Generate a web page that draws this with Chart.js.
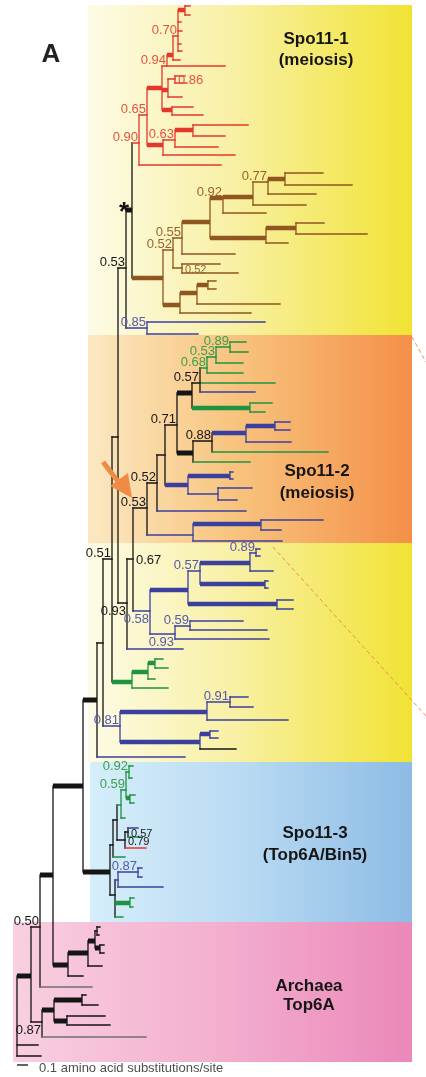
<!DOCTYPE html>
<html><head><meta charset="utf-8">
<script src="https://cdn.jsdelivr.net/npm/chart.js@4.4.1/dist/chart.umd.min.js"></script>
<style>html,body{margin:0;padding:0;background:#fff}#wrap{width:426px;height:1077px;position:relative}</style>
</head><body><div id="wrap"><canvas id="c"></canvas></div>
<script>
// ---------- DATA ----------
// Tree nodes: [id, parentId, depth (distance units, 11 units = 0.1 subst/site), row (vertical order units), clade, highSupport(1=thick)]
const backboneNodes = [
  ['root',null,17,1016,'bb',0],
  ['nAE','root',31,976,'bb',1],
  ['rt1','root',38,1045,'bb',0],
  ['rt2','root',41,1056,'bb',0],
  ['n50','nAE',40,927,'bb',0],
  ['gA','n50',92,987,'gy',0],
  ['n53','n50',53,875,'bb',1],
  ['nEuk','n53',83,786,'bb',1],
  ['nArA','n53',68,965,'bb',1],
  ['n87','nAE',42,1022,'bb',0]
];
const archaeaNodes = [
  ['a1','nArA',88,953,'bb',1],
  ['a1L','nArA',83,976,'bb',0],
  ['a2','a1',95,941,'bb',1],
  ['a1L2','a1',102,966,'bb',0],
  ['a3','a2',97,931,'bb',0],
  ['a3a','a3',100,927,'bb',0],
  ['a3b','a3',99,935,'bb',0],
  ['a4','a2',100,948,'bb',1],
  ['a4a','a4',104,945,'bb',0],
  ['a4b','a4',104,953,'bb',0],
  ['aL','n87',146,1037,'gy',0],
  ['ab1','n87',54,1010,'bb',1],
  ['ab2','ab1',82,1000,'bb',1],
  ['ab2a','ab2',86,995,'bb',0],
  ['ab2b','ab2',98,1005,'bb',0],
  ['ab3','ab1',67,1021,'bb',1],
  ['ab3a','ab3',105,1016,'bb',0],
  ['ab3b','ab3',110,1025,'bb',0]
];
const spo113Nodes = [
  ['s3','nEuk',110,872,'bb',1],
  ['s3a','s3',113,845,'bb',0],
  ['s3gL','s3a',125,857,'gr',0],
  ['s3c','s3a',117,820,'bb',0],
  ['g3','s3c',121,805,'gr',0],
  ['g3L','g3',125,818,'gr',0],
  ['g3a','g3',126,790,'gr',0],
  ['g3c','g3a',129,772,'gr',0],
  ['g3c1','g3c',133,766,'gr',0],
  ['g3c2','g3c',132,778,'gr',0],
  ['g3d','g3a',130,798,'gr',1],
  ['g3d1','g3d',135,795,'gr',0],
  ['g3d2','g3d',134,803,'gr',0],
  ['k3','s3c',125,840,'bb',0],
  ['k3a','k3',128,832,'bb',0],
  ['k3a1','k3a',138,828,'bl',0],
  ['k3a2','k3a',140,837,'gr',0],
  ['k3r','k3',146,848,'rd',0],
  ['s3b','s3',115,895,'bb',0],
  ['b3n','s3b',118,880,'bl',0],
  ['b3m','b3n',138,872,'bl',0],
  ['b3m1','b3m',142,868,'bl',0],
  ['b3m2','b3m',142,877,'bl',0],
  ['b3L','b3n',163,887,'bl',0],
  ['g4','s3b',130,903,'gr',1],
  ['g4a','g4',134,898,'gr',0],
  ['g4b','g4',133,907,'gr',0],
  ['g4L','s3b',123,917,'gr',0]
];
const lowerEukNodes = [
  ['nA0','nEuk',97,700,'bb',1],
  ['nA0L','nA0',185,757,'bl',0],
  ['nA1','nA0',103,643,'bb',0],
  ['c81','nA1',120,726,'bl',0],
  ['c81a','c81',207,712,'bl',1],
  ['c91','c81a',230,702,'bl',0],
  ['c91a','c91',248,697,'bl',0],
  ['c91b','c91',253,707,'bl',0],
  ['c81aL','c81a',288,720,'bl',0],
  ['c81b','c81',200,742,'bl',1],
  ['c81c','c81b',210,734,'bl',1],
  ['c81c1','c81c',218,731,'bl',0],
  ['c81c2','c81c',218,738,'bl',0],
  ['c81bL','c81b',236,749,'bb',0],
  ['nB','nA1',112,559,'bb',0],
  ['g5','nB',132,682,'gr',1],
  ['g5a','g5',148,672,'gr',1],
  ['g5b','g5a',155,663,'gr',1],
  ['g5b1','g5b',163,659,'gr',0],
  ['g5b2','g5b',168,668,'gr',0],
  ['g5aL','g5a',155,679,'gr',0],
  ['g5L','g5',168,688,'gr',0],
  ['nC','nB',118,437,'bb',0],
  ['nF','nC',127,603,'bb',0],
  ['nFL','nF',183,649,'bl',0],
  ['nG','nF',133,559,'bb',0],
  ['c58','nG',150,611,'bl',0],
  ['c57','c58',188,590,'bl',1],
  ['c57a','c57',200,571,'bl',0],
  ['c89','c57a',250,563,'bl',1],
  ['c89a','c89',256,553,'bl',0],
  ['c89a1','c89a',260,549,'bl',0],
  ['c89a2','c89a',260,556,'bl',0],
  ['c89L','c89',273,571,'bl',0],
  ['c57c','c57a',265,584,'bl',1],
  ['c57c1','c57c',268,581,'bl',0],
  ['c57c2','c57c',268,588,'bl',0],
  ['c57b','c57',277,604,'bl',1],
  ['c57b1','c57b',293,600,'bl',0],
  ['c57b2','c57b',293,609,'bl',0],
  ['c93','c58',175,634,'bl',0],
  ['c59','c93',190,626,'bl',0],
  ['c59a','c59',243,621,'bl',0],
  ['c59b','c59',267,630,'bl',0],
  ['c93L','c93',269,639,'bl',0]
];
const spo112Nodes = [
  ['nH','nG',147,508,'bb',0],
  ['nI','nH',157,483,'bb',0],
  ['nIL','nI',246,511,'bl',0],
  ['nJ','nI',165,455,'bb',0],
  ['nK','nJ',177,425,'bb',0],
  ['nM','nK',192,393,'bb',1],
  ['nO','nM',200,383,'bb',0],
  ['g6','nO',207,368,'gr',0],
  ['g7','g6',216,357,'gr',0],
  ['g8','g7',230,347,'gr',0],
  ['g8a','g8',246,342,'gr',0],
  ['g8b','g8',248,352,'gr',0],
  ['g7L','g7',243,363,'gr',0],
  ['g6L','g6',243,373,'gr',0],
  ['nOg','nO',275,383,'gr',0],
  ['nOb','nO',255,392,'bl',0],
  ['g9','nM',250,408,'gr',1],
  ['g9a','g9',272,403,'gr',0],
  ['g9b','g9',265,412,'gr',0],
  ['nN','nK',193,453,'bb',1],
  ['nP','nN',212,441,'bb',0],
  ['nQ','nP',246,433,'bl',1],
  ['nR','nQ',275,426,'bl',1],
  ['nR1','nR',290,422,'bl',0],
  ['nR2','nR',290,430,'bl',0],
  ['nQL','nQ',291,442,'bl',0],
  ['nPL','nP',328,452,'gr',0],
  ['nNL','nN',250,462,'gr',0],
  ['nL','nJ',188,485,'bl',1],
  ['nS','nL',230,476,'bl',1],
  ['nS1','nS',233,472,'bl',0],
  ['nS2','nS',233,479,'bl',0],
  ['nT','nL',218,494,'bl',0],
  ['nT1','nT',252,488,'bl',0],
  ['nT2','nT',237,500,'bl',0],
  ['cS2b','nH',193,535,'bl',0],
  ['cS2c','cS2b',261,524,'bl',1],
  ['cS2c1','cS2c',323,520,'bl',0],
  ['cS2c2','cS2c',281,530,'bl',0],
  ['cS2bL','cS2b',282,541,'bl',0]
];
const upperNodes = [
  ['nD','nC',126,268,'bb',0],
  ['c85','nD',147,328,'bl',0],
  ['c85a','c85',265,322,'bl',0],
  ['c85b','c85',198,334,'bl',0],
  ['nE','nD',132,210,'bb',1]
];
const brownNodes = [
  ['w0','nE',163,278,'br',1],
  ['w1','w0',173,250,'br',0],
  ['w55','w1',182,238,'br',0],
  ['wX','w55',210,222,'br',1],
  ['wY','wX',223,198,'br',1],
  ['wZ','wY',253,197,'br',1],
  ['w77','wZ',268,182,'br',0],
  ['wW','w77',285,179,'br',1],
  ['wW1','wW',323,173,'br',0],
  ['wW2','wW',352,185,'br',0],
  ['w77L','w77',316,194,'br',0],
  ['wZL','wZ',306,205,'br',0],
  ['wYL','wY',266,213,'br',0],
  ['wV','wX',266,238,'br',1],
  ['wU','wV',296,228,'br',1],
  ['wU1','wU',324,223,'br',0],
  ['wU2','wU',367,234,'br',0],
  ['wVL','wV',288,243,'br',0],
  ['w55L','w55',235,254,'br',0],
  ['w52','w1',182,268,'br',0],
  ['w52a','w52',220,264,'br',0],
  ['w52b','w52',238,273,'br',0],
  ['w2','w0',180,305,'br',1],
  ['w3','w2',197,293,'br',1],
  ['w4','w3',208,285,'br',1],
  ['w4a','w4',216,281,'br',0],
  ['w4b','w4',216,289,'br',0],
  ['w3L','w3',280,304,'br',0],
  ['w2L','w2',251,313,'br',0]
];
const spo111Nodes = [
  ['r0','nE',139,143,'rd',0],
  ['r0L','r0',221,165,'rd',0],
  ['r1','r0',147,115,'rd',0],
  ['r2','r1',163,145,'rd',1],
  ['r3','r2',175,140,'rd',0],
  ['r4','r3',193,130,'rd',1],
  ['r4a','r4',248,125,'rd',0],
  ['r4b','r4',225,136,'rd',0],
  ['r3L','r3',218,147,'rd',0],
  ['r2L','r2',235,155,'rd',0],
  ['r5','r1',162,88,'rd',1],
  ['r6','r5',167,66,'rd',0],
  ['r6L','r6',225,66,'rd',0],
  ['r9','r6',173,55,'rd',1],
  ['r70','r9',178,36,'rd',0],
  ['r71','r70',185,10,'rd',1],
  ['r71a','r71',190,6,'rd',0],
  ['r71b','r71',190,15,'rd',0],
  ['r70a','r70',181,22,'rd',0],
  ['r70b','r70',182,31,'rd',0],
  ['r70c','r70',181,44,'rd',0],
  ['r70d','r70',182,51,'rd',0],
  ['r9L','r9',180,60,'rd',0],
  ['r8','r5',168,90,'rd',1],
  ['r86','r8',175,79,'rd',0],
  ['r86a','r86',185,76,'rd',0],
  ['r86b','r86',186,83,'rd',0],
  ['r8L','r8',182,97,'rd',0],
  ['r7','r5',172,110,'rd',1],
  ['r7a','r7',193,107,'rd',0],
  ['r7b','r7',203,115,'rd',0]
];
// posterior support values: [nodeId, value]
const supportValues = [
  ['r0','0.90'],['r1','0.65'],['r3','0.63'],['r6','0.94'],['r70','0.70'],['r86','0.86'],
  ['w1','0.52'],['w55','0.55'],['wY','0.92'],['w77','0.77'],['w52','0.52'],
  ['c85','0.85'],['nD','0.53'],
  ['g8','0.89'],['g7','0.53'],['g6','0.68'],['nO','0.57'],['nK','0.71'],['nP','0.88'],['nI','0.52'],['nH','0.53'],
  ['c89a','0.89'],['c57a','0.57'],['c59','0.59'],['c93','0.93'],['c58','0.58'],['nG','0.67'],['nF','0.93'],['nB','0.51'],
  ['c91','0.91'],['c81','0.81'],
  ['g3c','0.92'],['g3a','0.59'],['k3a','0.57'],['k3','0.79'],['b3m','0.87'],
  ['n50','0.50'],['n87','0.87']
];
const cladeTitles = [['Spo11-1','(meiosis)'],['Spo11-2','(meiosis)'],['Spo11-3','(Top6A/Bin5)'],['Archaea','Top6A']];
const scaleBarText = '0.1 amino acid substitutions/site';
const scaleBarUnits = 11;   // = 0.1 substitutions/site

// ---------- LAYOUT / STYLE ----------
const boxExtents = [ // [styleKey, x0, x1, y0, y1]
  ['yellow',88,412,5,762],['orange',88,412,335,543],['blue',90,412,762,922],['pink',13,412,922,1062]
];
const boxGradients = {
  yellow:[[0,'#fdfbe6'],[0.45,'#f8f0a4'],[1,'#f1e334']],
  orange:[[0,'#fbe8c2'],[0.45,'#f8c47e'],[1,'#f48f48']],
  blue:[[0,'#d6eefa'],[0.5,'#b7d9f2'],[1,'#8dbbe5']],
  pink:[[0,'#f9cfe1'],[0.5,'#f3b0cf'],[1,'#eb88b9']]
};
const titleAnchors = [[316,44,21],[317,476,22],[315,838,22],[309,991,19]];
const labelPlacement = {r86:'R', w52:'R', nG:'R', k3a:'R', k3:'R', c93:'B', c58:'B', nF:'B', n87:'B'};
const smallLabels = ['w52','k3a','k3'];
const lineColor = {bb:'#151515', gy:'#707070', rd:'#e4372c', br:'#8f561f', bl:'#3b409f', gr:'#1e9441'};
const labelColor = {bb:'#161616', gy:'#333', rd:'#e3543f', br:'#98632f', bl:'#5659aa', gr:'#3d9f4b'};
const FONT = '"Liberation Sans", Arial, Helvetica, sans-serif';

// ---------- BUILD ----------
const allNodes = [].concat(backboneNodes, archaeaNodes, spo113Nodes, lowerEukNodes, spo112Nodes, upperNodes, brownNodes, spo111Nodes);
const byId = {};
allNodes.forEach(n => byId[n[0]] = {id:n[0], parent:n[1], x:n[2], y:n[3], clade:n[4], thick:n[5], kids:[]});
Object.values(byId).forEach(n => { if (n.parent) byId[n.parent].kids.push(n); });
const groups = {};
function addSeg(key, x1, y1, x2, y2) {
  (groups[key] = groups[key] || []).push({x:x1,y:y1},{x:x2,y:y2},{x:null,y:null});
}
Object.values(byId).forEach(n => {
  if (n.parent) {
    const p = byId[n.parent];
    addSeg(n.clade + '|' + (n.thick ? 'T' : 't'), p.x, n.y, n.x, n.y);
  }
  if (n.kids.length) {
    const ys = n.kids.map(k => k.y).concat(n.parent ? [n.y] : []);
    addSeg(n.clade + '|v', n.x, Math.min(...ys), n.x, Math.max(...ys));
  }
});
const datasets = Object.entries(groups).map(([key, pts]) => {
  const [clade, kind] = key.split('|');
  return {
    data: pts, borderColor: lineColor[clade], pointRadius: 0, spanGaps: false, tension: 0, fill: false,
    borderWidth: kind === 'T' ? (clade === 'bb' ? 5 : 4.4) : (kind === 'v' ? 1.3 : 1.4),
    borderCapStyle: kind === 'T' ? 'butt' : 'square',
    order: kind === 'T' ? 0 : (kind === 't' ? 1 : 2)
  };
});
// scale bar
const sbRoot = byId['root'];
datasets.push({data:[{x:sbRoot.x, y:1065},{x:sbRoot.x + scaleBarUnits, y:1065}], borderColor:'#222', borderWidth:1.4, pointRadius:0, order:0});
// zoom connector lines (dashed)
datasets.push({data:[{x:412,y:337},{x:426,y:362},{x:null,y:null},{x:273,y:547},{x:426,y:716}],
  borderColor:'#ef8a5c', borderWidth:1, borderDash:[4,3], pointRadius:0, spanGaps:false, order:3});

const backdrop = {
  id:'backdrop',
  beforeDatasetsDraw(chart) {
    const {ctx, scales:{x, y}} = chart;
    ctx.save();
    boxExtents.forEach(([k, x0, x1, y0, y1]) => {
      const X0 = x.getPixelForValue(x0), X1 = x.getPixelForValue(x1);
      const Y0 = y.getPixelForValue(y0), Y1 = y.getPixelForValue(y1);
      const g = ctx.createLinearGradient(X0, 0, X1, 0);
      boxGradients[k].forEach(([o, c]) => g.addColorStop(o, c));
      ctx.fillStyle = g;
      ctx.fillRect(X0, Math.min(Y0, Y1), X1 - X0, Math.abs(Y1 - Y0));
    });
    ctx.restore();
  }
};
const annotate = {
  id:'annotate',
  afterDatasetsDraw(chart) {
    const {ctx, scales:{x, y}} = chart;
    const px = v => x.getPixelForValue(v), py = v => y.getPixelForValue(v);
    ctx.save();
    // arrow
    ctx.fillStyle = '#f08b45'; ctx.strokeStyle = '#f08b45';
    ctx.lineWidth = 5; ctx.lineCap = 'butt';
    ctx.beginPath(); ctx.moveTo(px(103), py(462)); ctx.lineTo(px(120), py(484)); ctx.stroke();
    ctx.beginPath(); ctx.moveTo(px(110), py(486)); ctx.lineTo(px(128), py(473)); ctx.lineTo(px(132), py(498)); ctx.closePath(); ctx.fill();
    // support values
    supportValues.forEach(([id, val]) => {
      const n = byId[id];
      const mode = labelPlacement[id] || 'L';
      const size = smallLabels.includes(id) ? 11 : 13;
      ctx.font = size + 'px ' + FONT;
      ctx.fillStyle = labelColor[n.clade];
      ctx.textBaseline = 'alphabetic';
      if (mode === 'R') { ctx.textAlign = 'left'; ctx.fillText(val, px(n.x) + 3, py(n.y) + 5); }
      else if (mode === 'B') { ctx.textAlign = 'right'; ctx.fillText(val, px(n.x) - 1, py(n.y) + 12); }
      else { ctx.textAlign = 'right'; ctx.fillText(val, px(n.x) - 1, py(n.y) - 2); }
    });
    // asterisk at node nE
    const ne = byId['nE'];
    ctx.font = 'bold 26px ' + FONT; ctx.fillStyle = '#111'; ctx.textAlign = 'center';
    ctx.fillText('*', px(ne.x) - 8, py(ne.y) + 10);
    // clade titles
    ctx.font = 'bold 17px ' + FONT; ctx.fillStyle = '#151515'; ctx.textAlign = 'center';
    cladeTitles.forEach((lines, i) => {
      const [cx, cy, gap] = titleAnchors[i];
      lines.forEach((t, j) => ctx.fillText(t, px(cx), py(cy + j * gap)));
    });
    // panel letter
    ctx.font = 'bold 26px ' + FONT; ctx.fillStyle = '#222';
    ctx.fillText('A', px(51), py(62));
    // scale bar text
    ctx.font = '13px ' + FONT; ctx.fillStyle = '#505050'; ctx.textAlign = 'left';
    ctx.fillText(scaleBarText, px(39), py(1072));
    ctx.restore();
  }
};

new Chart(document.getElementById('c'), {
  type: 'line',
  data: { datasets },
  options: {
    responsive: true, maintainAspectRatio: false, animation: false, events: [],
    layout: { padding: 0 },
    plugins: { legend: { display: false }, tooltip: { enabled: false }, title: { display: false } },
    scales: {
      x: { type: 'linear', min: 0, max: 426, display: false },
      y: { type: 'linear', min: 0, max: 1077, reverse: true, display: false }
    }
  },
  plugins: [backdrop, annotate]
});
</script></body></html>
